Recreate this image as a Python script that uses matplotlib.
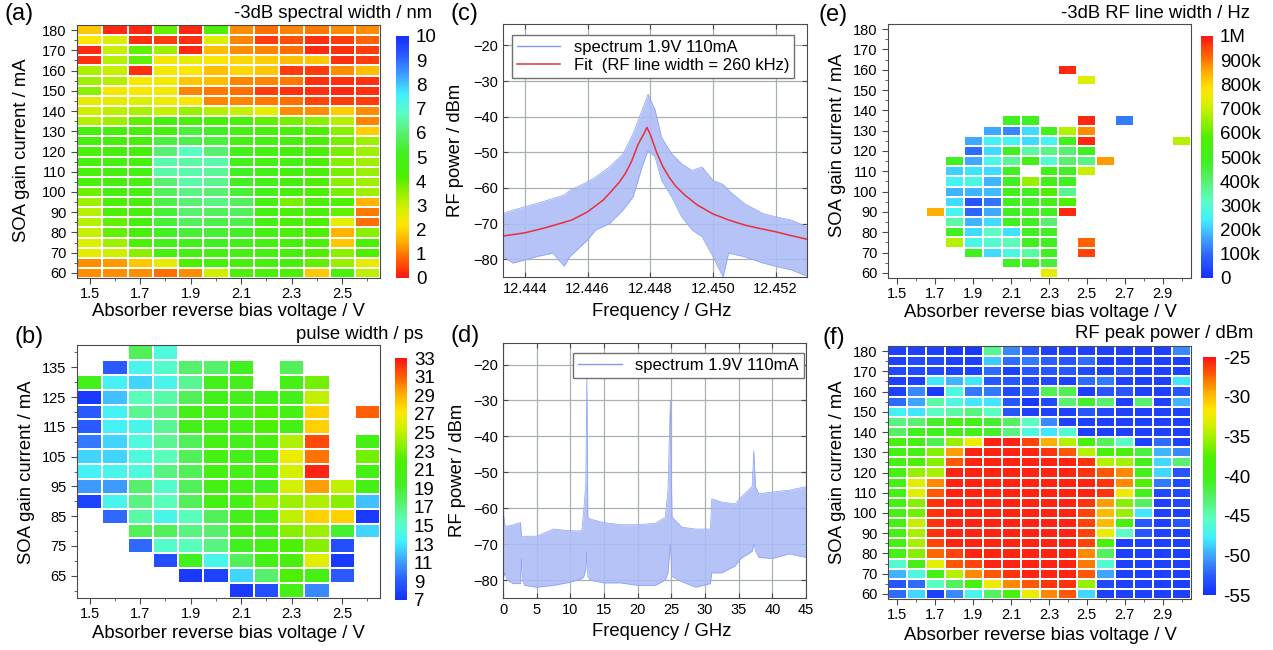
import numpy as np
import matplotlib
matplotlib.use('Agg')
import matplotlib.pyplot as plt
from matplotlib.colors import LinearSegmentedColormap
from matplotlib.ticker import MultipleLocator
from matplotlib.lines import Line2D

plt.rcParams['font.family'] = ['Liberation Sans', 'DejaVu Sans']

n = np.nan

# ---------------- data ----------------
volts_ab = np.round(np.arange(1.5, 2.61, 0.1), 2)     # 12 columns
volts_ef = np.round(np.arange(1.5, 3.01, 0.1), 2)     # 16 columns
currents_a = np.arange(60, 181, 5)                    # 25 rows
currents_b = np.arange(60, 141, 5)                    # 17 rows

# (a) -3dB spectral width / nm, rows from 180 mA (top) down to 60 mA
spec_width = [
    [1.8, 0.2, 0.2, 4.0, 0.2, 4.2, 1.2, 0.9, 1.1, 1.0, 1.2, 1.2],
    [2.2, 2.8, 0.3, 0.4, 0.3, 2.8, 1.1, 0.4, 0.6, 0.3, 0.4, 0.8],
    [0.2, 3.0, 4.0, 3.4, 0.2, 1.7, 1.2, 1.1, 0.9, 0.2, 0.3, 0.4],
    [0.3, 3.2, 4.0, 2.4, 2.6, 2.3, 2.0, 1.9, 1.7, 1.8, 0.3, 0.4],
    [3.3, 3.0, 0.3, 2.4, 2.2, 1.7, 2.0, 1.8, 0.4, 0.4, 1.2, 1.7],
    [3.4, 3.2, 2.3, 2.4, 1.8, 1.7, 1.1, 1.1, 1.0, 0.3, 0.3, 0.3],
    [3.6, 2.4, 2.3, 2.4, 1.1, 1.0, 0.9, 0.4, 0.3, 0.3, 0.2, 0.3],
    [2.6, 2.6, 2.8, 2.5, 2.3, 1.1, 1.1, 1.0, 0.9, 0.5, 0.4, 0.4],
    [2.9, 3.1, 3.3, 3.0, 3.5, 3.2, 3.0, 2.6, 1.2, 1.2, 1.9, 1.2],
    [3.2, 3.4, 4.0, 4.6, 4.5, 4.5, 4.5, 4.0, 3.8, 3.6, 3.2, 1.1],
    [4.6, 4.6, 4.6, 4.6, 5.5, 5.2, 4.8, 4.6, 4.5, 4.2, 3.6, 1.9],
    [4.6, 4.6, 4.6, 5.5, 5.6, 5.5, 4.8, 4.8, 4.6, 4.4, 3.8, 3.4],
    [4.5, 4.6, 4.6, 6.0, 6.8, 6.0, 5.0, 4.8, 4.6, 4.4, 3.8, 3.4],
    [4.6, 4.7, 4.6, 6.6, 6.5, 6.6, 5.0, 4.8, 4.7, 4.4, 3.7, 3.4],
    [4.5, 4.6, 4.7, 6.5, 6.6, 6.4, 5.2, 5.0, 4.6, 4.4, 3.8, 3.5],
    [4.5, 4.6, 4.8, 6.0, 6.6, 6.3, 5.2, 5.0, 4.6, 4.4, 3.6, 3.4],
    [3.9, 4.6, 4.8, 5.8, 6.2, 6.0, 5.4, 5.0, 4.6, 4.2, 3.8, 3.4],
    [3.4, 4.4, 4.6, 5.6, 6.0, 6.2, 5.8, 4.8, 3.8, 4.4, 4.2, 1.6],
    [3.2, 4.2, 4.6, 5.4, 6.0, 5.8, 5.8, 4.8, 4.4, 4.4, 4.0, 1.0],
    [3.2, 4.0, 4.6, 5.4, 5.8, 5.6, 5.6, 4.8, 4.4, 4.2, 2.6, 0.9],
    [3.0, 4.0, 4.6, 5.2, 5.4, 5.4, 5.2, 4.8, 4.4, 4.2, 1.6, 3.6],
    [2.8, 3.4, 4.4, 5.0, 5.0, 5.2, 5.0, 4.8, 4.6, 4.4, 1.8, 4.4],
    [2.6, 2.9, 3.6, 4.6, 4.8, 4.8, 4.8, 4.8, 4.6, 4.2, 3.6, 4.2],
    [1.2, 1.3, 1.8, 2.6, 4.2, 4.6, 4.6, 4.6, 4.6, 4.0, 3.5, 2.6],
    [1.2, 1.2, 1.2, 0.9, 1.2, 2.9, 4.3, 4.4, 4.4, 1.8, 4.5, 3.1],
]

# (b) pulse width / ps, rows from 140 mA down to 60 mA
pulse_width = [
    [n, n, 18, 14.5, n, n, n, n, n, n, n, n],
    [n, 9, 14, 15, 17.5, 17.5, 19.5, n, 18, n, n, n],
    [20, 13.5, 12.5, 14, 16.5, 20, 20, n, 20.5, 23, n, n],
    [7.5, 12, 15.5, 16, 18, 20, 20, 20, 20, 25, n, n],
    [9, 13.5, 16.5, 17, 20.5, 20.5, 20, 22, 20.5, 28, n, 31],
    [9, 13.5, 14, 16.5, 20, 20.5, 20.5, 22, 20.5, 28, n, n],
    [10, 12.5, 14.5, 16.5, 18, 20.5, 20, 21, 24.5, 31.5, n, 20.5],
    [12.5, 12.5, 14.5, 15.5, 18, 20.5, 20, 20.5, 26.5, 30.5, n, 23],
    [13.5, 14, 14.5, 17, 18, 20.5, 20, 21, 25.5, 32.5, n, 20.5],
    [11, 11, 17.5, 15, 18, 20.5, 20.5, 19.5, 25.5, 29.5, 25, 20.5],
    [8, 14, 17, 15.5, 18, 20.5, 20.5, 23.5, 24, 24.5, 23.5, 12],
    [n, 9.5, 16, 14, 15.5, 18, 20, 20, 25, 28, 28, 7.5],
    [n, n, 18, 18, 17, 17.5, 20.5, 20, 23.5, 24, 19, 12.5],
    [n, n, 9.5, 15, 15.5, 17, 19.5, 20.5, 22, 23.5, 8.5, n],
    [n, n, n, 8.5, 19.5, 14, 18, 20.5, 21, 26, 7.5, n],
    [n, n, n, n, 7.5, 8, 12.5, 17.5, 22, 20.5, 9, n],
    [n, n, n, n, n, n, 7.5, 8.5, 20.5, 10.5, n, n],
]

# (e) -3dB RF line width in kHz, rows from 180 mA down to 60 mA
rf_width_k = [
    [n] * 16,
    [n] * 16,
    [n] * 16,
    [n] * 16,
    [n, n, n, n, n, n, n, n, n, 980, n, n, n, n, n, n],
    [n, n, n, n, n, n, n, n, n, n, 720, n, n, n, n, n],
    [n] * 16,
    [n] * 16,
    [n] * 16,
    [n, n, n, n, n, n, 480, 480, n, n, 980, n, 120, n, n, n],
    [n, n, n, n, n, 170, 130, 220, 500, 680, 880, n, n, n, n, n],
    [n, n, n, n, 170, 250, 260, 220, 260, 500, 980, n, n, n, n, 680],
    [n, n, n, n, 100, 220, 480, 350, 380, 400, 480, n, n, n, n, n],
    [n, n, n, 480, 170, 270, 360, 520, 300, 400, 380, 870, n, n, n, n],
    [n, n, n, 210, 230, 220, 480, n, 500, 480, 700, n, n, n, n, n],
    [n, n, n, 250, 280, 180, 480, 650, 500, 480, n, n, n, n, n, n],
    [n, n, n, 180, 180, 190, 500, 480, 560, 370, n, n, n, n, n, n],
    [n, n, n, 220, 70, 110, 480, 480, 500, 580, n, n, n, n, n, n],
    [n, n, 850, 260, 90, 170, 480, 480, 480, 980, n, n, n, n, n, n],
    [n, n, n, 350, 180, 220, 480, 480, 400, n, n, n, n, n, n, n],
    [n, n, n, 480, 220, 320, 230, 480, 480, n, n, n, n, n, n, n],
    [n, n, n, 680, 270, 300, 330, 480, 480, n, 920, n, n, n, n, n],
    [n, n, n, n, 480, 220, 280, 350, 480, n, 950, n, n, n, n, n],
    [n, n, n, n, n, n, 480, 480, 460, n, n, n, n, n, n, n],
    [n, n, n, n, n, n, n, n, 740, n, n, n, n, n, n, n],
]

# (f) RF peak power / dBm, rows from 180 mA down to 60 mA
R = -25.5
rf_peak = [
    [-54, -54, -54, -54.5, -54.5, -44, -51, -53, -54, -54, -54, -54, -54, -54, -54, -51],
    [-54, -53.5, -53.5, -54, -54, -49, -52, -51.5, -52.5, -53, -52, -54, -54, -54, -54, -54],
    [-53.5, -53.5, -53.5, -54, -54, -52, -54, -53, -53, -53, -53.5, -54, -53, -54, -54, -54],
    [-54, -54, -48, -49.5, -48, -53, -53, -53.5, -53.5, -54, -52, -51.5, -54, -54, -54, -48],
    [-54, -51, -54.5, -46.5, -51.5, -51.5, -53.5, -53, -42, -42, -54, -53, -53, -54, -54, -53],
    [-52, -50, -44.5, -46.5, -48, -48, -53, -54.5, -53.5, -43, -41, -43, -54, -43, -54, -49.5],
    [-47.5, -48, -45.5, -44.5, -43.5, -45.5, -53, -54, -54, -54, -53, -53.5, -54, -54, -54, -54],
    [-43.5, -43, -41, -39.5, -40, -41, -42.5, -45.5, -51, -54, -54, -54, -54, -54, -54, -54],
    [-42.5, -40.5, -40.5, -40, -40, -41, -43.5, -46.5, -48, -46, -54, -54, -54, -54, -54, -54],
    [-39, -39.5, -42, -35.5, -32.5, R, R, -26.5, -29.5, -34.5, -38.5, -42.5, -45.5, -54, -52, -54],
    [-39.5, -39.5, -36, -29, R, R, R, R, -26, -27, -34.5, -38.5, -38.5, -41.5, -49.5, -51],
    [-39.5, -38, -36, -27, R, R, R, R, R, R, -26, -34.5, -35, -40, -48.5, -43],
    [-39, -35.5, -35, R, R, R, R, R, R, R, -26, -27, -28.5, -40, -48.5, -53],
    [-39.5, -33, -28.5, R, R, R, R, R, R, R, R, -26, -28.5, -37.5, -51.5, -53.5],
    [-39.5, -33, -27, R, R, R, R, R, R, R, R, -26, -32.5, -40, -53.5, -53.5],
    [-39.5, -36, -26, R, R, R, R, R, R, R, -26, -29, -36, -42.5, -54, -53.5],
    [-39.5, -36.5, -26, R, R, R, R, R, R, R, -26.5, -30, -35.5, -48, -54, -54],
    [-39.5, -34, -26, R, R, R, R, R, R, R, -26.5, -30, -39, -53, -54, -53],
    [-39.5, -35, -26, R, R, R, R, R, R, R, -26.5, -32.5, -45.5, -53, -54, -54],
    [-39.5, -35, -26.5, R, R, R, R, R, R, R, -26.5, -38.5, -54, -54, -54, -54],
    [-39.5, -36, -27.5, -26.5, R, R, R, R, R, R, -28.5, -42.5, -54, -54, -54, -54],
    [-46, -39.5, -33, -27, -26.5, R, R, R, R, R, -28, -46, -54, -54, -54, -54],
    [-49.5, -46.5, -39.5, -34.5, -28.5, -27, -26, R, R, R, -27, -50, -54, -54, -54, -54],
    [-53, -52, -45.5, -42.5, -39, -32.5, -28.5, -27, -26, -26, -35.5, -53.5, -54, -54, -54, -54],
    [-52, -48.5, -54, -51, -47, -42.5, -39, -32.5, -28.5, -27, -48.5, -54, -54, -54, -54, -54],
]

# (c) zoomed RF spectrum: envelope of the noisy trace and the Lorentzian fit
c_freq = [12.4433, 12.44362, 12.4440, 12.44436, 12.44489, 12.44525, 12.44543,
          12.4460, 12.44626, 12.4467, 12.44713, 12.44745, 12.44777, 12.44793,
          12.44815, 12.44836, 12.44868, 12.4490, 12.44933, 12.44965, 12.4500,
          12.45032, 12.4505, 12.4510, 12.4516, 12.4520, 12.4525, 12.4530]
c_high = [-67.2, -66.2, -65.3, -64.4, -63.0, -62.0, -60.7, -58.3, -56.9, -54.1,
          -50.4, -44.8, -37.4, -33.7, -38.0, -45.8, -50.4, -53.2, -55.1, -54.1,
          -57.9, -59.0, -60.7, -64.4, -67.2, -68.1, -69.0, -70.9]
c_low = [-79.3, -81.1, -80.2, -79.3, -78.3, -82.0, -79.3, -74.6, -71.8, -70.0,
         -66.2, -62.5, -53.2, -49.5, -51.3, -57.9, -62.5, -68.1, -71.8, -73.7,
         -79.3, -85.0, -78.3, -79.3, -81.1, -82.0, -83.0, -84.8]
fit_freq = [12.4433, 12.4440, 12.4446, 12.4450, 12.4455, 12.4460, 12.4465,
            12.4468, 12.4470, 12.4472, 12.4474, 12.4476, 12.4477, 12.4478,
            12.44789, 12.4480, 12.4481, 12.4482, 12.4484, 12.4486, 12.4488,
            12.4491, 12.4495, 12.4500, 12.4505, 12.4510, 12.4515, 12.4520,
            12.4525, 12.4530]
fit_db = [-73.5, -72.6, -71.3, -70.3, -69.0, -66.7, -63.4, -60.5, -58.5, -56.0,
          -52.6, -48.0, -46.3, -44.8, -43.0, -45.0, -47.5, -50.0, -54.0, -57.0,
          -59.4, -62.0, -64.8, -67.3, -69.0, -70.4, -71.4, -72.3, -73.4, -74.4]

# (d) wide RF spectrum envelope
d_freq = [0.0, 0.1, 0.3, 0.6, 1.5, 2.6, 2.75, 2.9, 3.2, 5.0, 7.5, 10.0, 11.7,
          12.0, 12.3, 12.45, 12.6, 12.9, 15.0, 17.5, 20.0, 22.6, 24.1, 24.5,
          24.85, 25.1, 26.6, 28.6, 30.8, 31.0, 32.5, 34.5, 35.3, 37.0, 37.25,
          37.5, 38.0, 40.0, 42.5, 45.0]
d_high = [-55, -62, -65, -65, -64.6, -64, -68, -68, -67.8, -67.8, -65.8, -66.3,
          -66.3, -60.5, -53, -23, -62.5, -63, -64, -64.6, -64.6, -64.2, -62.5,
          -55, -30, -62.5, -65.3, -65.8, -65.8, -57.4, -58.3, -58.8, -57, -54,
          -44, -54, -56, -55.5, -55, -54]
d_low = [-79, -79, -78, -80, -81, -81, -74, -80, -81.5, -82, -81.5, -80.6, -79.6,
         -79, -77, -72, -79, -80, -80.8, -80.8, -81.5, -81.5, -80, -78, -70, -79,
         -80.5, -82, -81, -78, -78, -76, -74, -72, -70, -72, -73.7, -74, -72.7,
         -73.7]

# ---------------- style ----------------
rainbow = LinearSegmentedColormap.from_list('origin_rainbow', [
    (0.00, '#1530ff'), (0.08, '#2a5cff'), (0.16, '#3fa0ff'), (0.24, '#40f0ff'),
    (0.32, '#5affc0'), (0.40, '#58f070'), (0.48, '#40f020'), (0.58, '#4cf000'),
    (0.66, '#a0f000'), (0.72, '#d8f000'), (0.78, '#ffe600'), (0.85, '#ffb000'),
    (0.92, '#ff6400'), (1.00, '#ff1515')])

W, H = 1273, 650
fig = plt.figure(figsize=(W / 100, H / 100), dpi=100)
TICK = 10.5
LABEL = 13.3
SPINE = '#4a4a4a'


def box(x0, y0, x1, y1):
    return fig.add_axes([x0 / W, 1 - y1 / H, (x1 - x0) / W, (y1 - y0) / H])


def ftext(x, y, s, size=LABEL, **kw):
    fig.text(x / W, 1 - y / H, s, fontsize=size, **kw)


def heatmap(rect, crect, volts, currents, grid, cmap, vmin, vmax,
            xticks, yticks, cticks, clabels):
    ax = box(*rect)
    z = np.ma.masked_invalid(np.flipud(np.array(grid, dtype=float)))
    xe = np.append(volts - 0.05, volts[-1] + 0.05)
    ye = np.append(currents - 2.5, currents[-1] + 2.5)
    mesh = ax.pcolormesh(xe, ye, z, cmap=cmap, vmin=vmin, vmax=vmax,
                         edgecolors='white', linewidth=1.1)
    ax.set_xlim(xe[0], xe[-1])
    ax.set_ylim(ye[0], ye[-1])
    ax.set_xticks(xticks)
    ax.set_xticklabels(['%.1f' % v for v in xticks])
    ax.set_yticks(yticks)
    ax.xaxis.set_minor_locator(MultipleLocator(0.1))
    ax.yaxis.set_minor_locator(MultipleLocator(5))
    ax.tick_params(which='both', direction='out', labelsize=TICK, color=SPINE)
    ax.tick_params(which='major', length=4)
    ax.tick_params(which='minor', length=2.5)
    ax.tick_params(axis='x', pad=2.5)
    for s in ax.spines.values():
        s.set_color(SPINE)
    cax = box(*crect)
    cb = fig.colorbar(mesh, cax=cax)
    cb.outline.set_visible(False)
    cb.set_ticks(cticks)
    cb.set_ticklabels(clabels)
    cax.tick_params(length=0, labelsize=13.5, pad=5)
    return ax


xt_ab = [1.5, 1.7, 1.9, 2.1, 2.3, 2.5]
xt_ef = [1.5, 1.7, 1.9, 2.1, 2.3, 2.5, 2.7, 2.9]

heatmap((77, 25, 380, 278), (396, 36, 409, 278), volts_ab, currents_a, spec_width,
        rainbow.reversed(), 0, 10, xt_ab, list(range(60, 181, 10)),
        list(range(0, 11)), [str(i) for i in range(0, 11)])
heatmap((77, 345, 380, 598), (395, 358, 407, 600), volts_ab, currents_b, pulse_width,
        rainbow, 7, 33, xt_ab, list(range(65, 136, 10)),
        list(range(7, 34, 2)), [str(i) for i in range(7, 34, 2)])
heatmap((888, 24, 1191, 278), (1201, 36, 1213, 278), volts_ef, currents_a, rf_width_k,
        rainbow, 0, 1000, xt_ef, list(range(60, 181, 10)),
        list(range(0, 1001, 100)),
        ['0'] + ['%dk' % v for v in range(100, 1000, 100)] + ['1M'])
heatmap((888, 346, 1191, 599), (1203, 357, 1216, 595), volts_ef, currents_a, rf_peak,
        rainbow, -55, -25, xt_ef, list(range(60, 181, 10)),
        list(range(-55, -24, 5)), [str(i) for i in range(-55, -24, 5)])

band = '#adbdf7'
edge = '#8aa1f3'
trace = '#809af2'


def spectrum_axes(rect):
    ax = box(*rect)
    ax.grid(color='#a8b0b0', lw=0.9)
    ax.set_axisbelow(True)
    ax.tick_params(direction='in', top=True, right=True, length=3.5,
                   labelsize=TICK, color=SPINE)
    for s in ax.spines.values():
        s.set_color(SPINE)
    ax.set_ylim(-85, -14)
    ax.set_yticks(list(range(-80, -19, 10)))
    return ax


spec_handle = Line2D([], [], color=trace, lw=1.0)
leg_kw = dict(borderaxespad=0, fontsize=12, fancybox=False, edgecolor='#707070',
              framealpha=1, handlelength=2.6, borderpad=0.3, labelspacing=0.2)

ax_c = spectrum_axes((503, 24, 807, 277))
ax_c.fill_between(c_freq, c_low, c_high, color=band, alpha=0.9, lw=0)
ax_c.plot(c_freq, c_high, color=edge, lw=0.5)
ax_c.plot(c_freq, c_low, color=edge, lw=0.5)
fit_line, = ax_c.plot(fit_freq, fit_db, color='#e8303a', lw=1.1)
ax_c.set_xlim(12.4433, 12.4530)
c_ticks = [12.444, 12.446, 12.448, 12.450, 12.452]
ax_c.set_xticks(c_ticks)
ax_c.set_xticklabels(['%.3f' % v for v in c_ticks])
ax_c.legend([spec_handle, fit_line],
            ['spectrum 1.9V 110mA', 'Fit  (RF line width = 260 kHz)'],
            loc='upper left', bbox_to_anchor=(0.03, 0.958), **leg_kw)

ax_d = spectrum_axes((503, 343, 806, 598))
ax_d.fill_between(d_freq, d_low, d_high, color=band, alpha=0.9, lw=0)
ax_d.plot(d_freq, d_high, color=edge, lw=0.5)
ax_d.plot(d_freq, d_low, color=edge, lw=0.5)
ax_d.set_xlim(0, 45)
ax_d.set_xticks(list(range(0, 46, 5)))
ax_d.legend([spec_handle], ['spectrum 1.9V 110mA'],
            loc='upper right', bbox_to_anchor=(0.992, 0.96), **leg_kw)

# panel letters, headings, axis labels
for x, y, s in [(5, 14, '(a)'), (14, 337, '(b)'), (450, 14, '(c)'),
                (450, 336, '(d)'), (818, 15, '(e)'), (822, 338, '(f)')]:
    ftext(x, y, s, size=17, ha='left', va='center')

ftext(432, 13, '-3dB spectral width / nm', ha='right', va='center')
ftext(423, 335, 'pulse width / ps', ha='right', va='center')
ftext(1250, 13, '-3dB RF line width / Hz', ha='right', va='center')
ftext(1253, 334, 'RF peak power / dBm', ha='right', va='center')

xl = 'Absorber reverse bias voltage / V'
ftext(228, 312, xl, ha='center', va='center')
ftext(228, 633, xl, ha='center', va='center')
ftext(1040, 313, xl, ha='center', va='center')
ftext(1040, 635, xl, ha='center', va='center')
ftext(662, 311, 'Frequency / GHz', ha='center', va='center')
ftext(662, 632, 'Frequency / GHz', ha='center', va='center')

yl = 'SOA gain current / mA'
ftext(22, 150, yl, ha='center', va='center', rotation=90)
ftext(27, 472, yl, ha='center', va='center', rotation=90)
ftext(837, 145, yl, ha='center', va='center', rotation=90)
ftext(837, 472, yl, ha='center', va='center', rotation=90)
ftext(455, 150, 'RF power / dBm', ha='center', va='center', rotation=90)
ftext(457, 470, 'RF power / dBm', ha='center', va='center', rotation=90)

fig.savefig('out.png', dpi=100)
